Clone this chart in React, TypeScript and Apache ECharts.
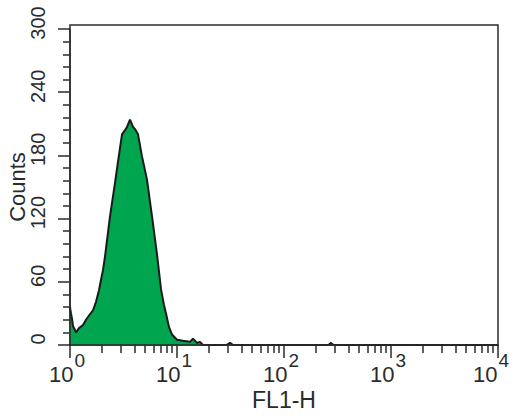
import React, { useEffect, useRef } from "react";
import * as echarts from "echarts";

// FL1-H channel values (log scale) and event counts
const fl1H = [
  1.0, 1.022, 1.044, 1.067, 1.114, 1.138, 1.214, 1.323, 1.411, 1.505, 1.641, 1.75,
  1.867, 1.949, 2.034, 2.124, 2.365, 2.634, 2.81, 3.062, 3.266, 3.41, 3.637, 3.88,
  4.051, 4.32, 4.709, 5.243, 5.84, 6.504, 7.088, 7.558, 7.891, 8.42, 8.981, 10.0,
  11.38, 13.23, 14.11, 15.38, 16.41, 17.5, 29.0, 31.3, 33.5, 260, 275, 290, 10000,
];
const counts = [
  36, 30, 25, 18, 14, 12, 16, 19, 24, 28, 33, 41,
  52, 62, 71, 84, 122, 154, 174, 200, 204, 207, 214, 207,
  205, 200, 179, 157, 122, 86, 53, 38, 30, 17, 10, 5,
  4, 3, 6, 2, 3, 0, 0, 2, 0, 0, 2, 0, 0,
];

const xMajorTicks = [1, 10, 100, 1000, 10000];
const xMinorTicks = [
  2, 3, 4, 5, 6, 7, 8, 9,
  20, 30, 40, 50, 60, 70, 80, 90,
  200, 300, 400, 500, 600, 700, 800, 900,
  2000, 3000, 4000, 5000, 6000, 7000, 8000, 9000,
];
const yMin = 0;
const yMax = 300;
const yInterval = 60;

const GRID_LEFT = 70;
const GRID_RIGHT = 17;
const GRID_TOP = 29;
const GRID_BOTTOM = 71;
const W = 515;
const H = 416;

const FONT = "'Liberation Sans', Arial, Helvetica, sans-serif";
const INK = "#2b2b2b";

export default function App() {
  const ref = useRef<HTMLDivElement>(null);

  useEffect(() => {
    if (!ref.current) return;
    const chart = echarts.init(ref.current, undefined, { renderer: "svg" });
    const data = fl1H.map((x, i) => [x, counts[i]]);
    const lastExp = Math.round(Math.log10(xMajorTicks[xMajorTicks.length - 1]));

    chart.setOption({
      animation: false,
      backgroundColor: "#ffffff",
      grid: {
        left: GRID_LEFT,
        right: GRID_RIGHT,
        top: GRID_TOP,
        bottom: GRID_BOTTOM,
        containLabel: false,
        outerBoundsMode: "none",
      },
      xAxis: [
        {
          type: "log",
          logBase: 10,
          min: 1,
          max: 10000,
          name: "FL1-H",
          nameLocation: "middle",
          nameGap: 43,
          nameMoveOverlap: false,
          nameTextStyle: { fontFamily: FONT, fontSize: 23, color: INK, verticalAlign: "top" },
          axisLine: { show: true, lineStyle: { color: INK, width: 1.5 } },
          axisTick: {
            show: true,
            inside: false,
            length: 13,
            lineStyle: { color: INK, width: 1.5 },
            customValues: xMajorTicks,
          },
          splitLine: { show: false },
          axisLabel: {
            show: true,
            customValues: xMajorTicks,
            margin: 6,
            formatter: (v: number) => {
              const e = Math.round(Math.log10(v));
              return e === lastExp ? `{b|10}{sl|${e}}` : `{b|10}{s|${e}}`;
            },
            rich: {
              b: { fontFamily: FONT, fontSize: 22, color: INK, lineHeight: 34, verticalAlign: "bottom" },
              s: {
                fontFamily: FONT,
                fontSize: 19,
                color: INK,
                lineHeight: 20,
                verticalAlign: "top",
                padding: [0, 6, 0, 1],
              },
              sl: {
                fontFamily: FONT,
                fontSize: 19,
                color: INK,
                lineHeight: 20,
                verticalAlign: "top",
                padding: [0, 14, 0, 1],
              },
            },
          },
        },
        {
          type: "log",
          logBase: 10,
          min: 1,
          max: 10000,
          position: "bottom",
          axisLine: { show: false },
          axisLabel: { show: false },
          splitLine: { show: false },
          axisTick: {
            show: true,
            inside: false,
            length: 8,
            lineStyle: { color: INK, width: 1.5 },
            customValues: xMinorTicks,
          },
        },
      ],
      yAxis: {
        type: "value",
        min: yMin,
        max: yMax,
        interval: yInterval,
        name: "Counts",
        nameLocation: "middle",
        nameRotate: 90,
        nameGap: 42,
        nameMoveOverlap: false,
        nameTextStyle: { fontFamily: FONT, fontSize: 22, color: INK },
        axisLine: { show: true, lineStyle: { color: INK, width: 1.5 } },
        axisTick: { show: true, inside: false, length: 12, lineStyle: { color: INK, width: 1.5 } },
        minorTick: { show: true, splitNumber: 5, length: 7, lineStyle: { color: INK, width: 1.5 } },
        splitLine: { show: false },
        minorSplitLine: { show: false },
        axisLabel: {
          rotate: 90,
          margin: 22,
          fontFamily: FONT,
          fontSize: 20,
          color: INK,
          padding: [0, 0, 0, 12],
        },
      },
      series: [
        {
          type: "line",
          xAxisIndex: 0,
          yAxisIndex: 0,
          data,
          symbol: "none",
          smooth: false,
          lineStyle: { color: "#1a1a1a", width: 2 },
          areaStyle: { color: "#00a54f", opacity: 1 },
          z: 1,
        },
      ],
      graphic: [
        {
          type: "rect",
          shape: {
            x: GRID_LEFT,
            y: GRID_TOP - 4,
            width: W - GRID_LEFT - GRID_RIGHT,
            height: H - GRID_BOTTOM - (GRID_TOP - 4),
          },
          style: { fill: "none", stroke: INK, lineWidth: 1.5 },
          z: 100,
          silent: true,
        },
      ],
    });

    return () => chart.dispose();
  }, []);

  return (
    <div
      ref={ref}
      style={{ position: "fixed", left: 0, top: 0, width: W, height: H, background: "#fff" }}
    />
  );
}
